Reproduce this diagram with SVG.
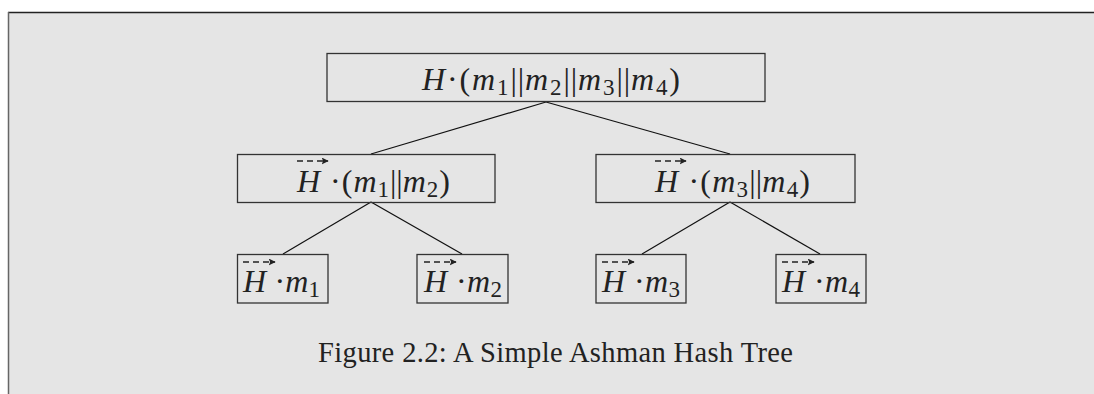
<svg xmlns="http://www.w3.org/2000/svg" width="1094" height="394" viewBox="0 0 1094 394">
  <defs>
    <style>
      .box { fill: none; stroke: #333; stroke-width: 1.3; }
      .edge { stroke: #111; stroke-width: 1.2; fill: none; }
      .m { font-family: "Liberation Serif", "DejaVu Serif", serif; font-size: 32px; fill: #222; }
      .i { font-style: italic; }
      .sub { font-size: 23px; }
      .bar { letter-spacing: -1px; }
      .vec { stroke: #222; stroke-width: 1.4; stroke-dasharray: 6 4; fill: none; }
      .cap { font-family: "Liberation Serif", serif; font-size: 28.5px; fill: #222; }
    </style>
    <marker id="ah" viewBox="0 0 10 10" refX="9" refY="5" markerWidth="7" markerHeight="7" orient="auto" markerUnits="userSpaceOnUse">
      <path d="M0,0 L10,5 L0,10 L2,5 z" fill="#222"/>
    </marker>
  </defs>
  <rect x="8" y="12" width="1090" height="390" fill="#e5e5e5"/>
  <line x1="8" y1="12.5" x2="1094" y2="12.5" stroke="#222" stroke-width="1.3"/>
  <line x1="8.5" y1="12" x2="8.5" y2="394" stroke="#666" stroke-width="1.5"/>

  <g id="connectors">
    <line class="edge" x1="546" y1="102" x2="371" y2="154"/>
    <line class="edge" x1="546" y1="102" x2="730" y2="154"/>
    <line class="edge" x1="371" y1="202" x2="283" y2="254"/>
    <line class="edge" x1="371" y1="202" x2="462" y2="254"/>
    <line class="edge" x1="730" y1="202" x2="642" y2="254"/>
    <line class="edge" x1="730" y1="202" x2="820" y2="254"/>
  </g>

  <g id="root">
    <rect class="box" x="327" y="53.5" width="438" height="48"/>
    <text class="m" x="422" y="90" textLength="258" lengthAdjust="spacing"><tspan class="i">H</tspan>·(<tspan class="i">m</tspan><tspan class="sub" dy="5">1</tspan><tspan class="bar" dy="-5">||</tspan><tspan class="i">m</tspan><tspan class="sub" dy="5">2</tspan><tspan class="bar" dy="-5">||</tspan><tspan class="i">m</tspan><tspan class="sub" dy="5">3</tspan><tspan class="bar" dy="-5">||</tspan><tspan class="i">m</tspan><tspan class="sub" dy="5">4</tspan><tspan dy="-5">)</tspan></text>
  </g>

  <g id="n12">
    <rect class="box" x="237.5" y="154.5" width="257.5" height="48"/>
    <line class="vec" x1="297" y1="161" x2="328" y2="161" marker-end="url(#ah)"/>
    <text class="m" x="297" y="192" textLength="153" lengthAdjust="spacing"><tspan class="i">H</tspan> ·(<tspan class="i">m</tspan><tspan class="sub" dy="5">1</tspan><tspan class="bar" dy="-5">||</tspan><tspan class="i">m</tspan><tspan class="sub" dy="5">2</tspan><tspan dy="-5">)</tspan></text>
  </g>

  <g id="n34">
    <rect class="box" x="596" y="154.5" width="259" height="48"/>
    <line class="vec" x1="655" y1="161" x2="686" y2="161" marker-end="url(#ah)"/>
    <text class="m" x="655" y="192" textLength="155" lengthAdjust="spacing"><tspan class="i">H</tspan> ·(<tspan class="i">m</tspan><tspan class="sub" dy="5">3</tspan><tspan class="bar" dy="-5">||</tspan><tspan class="i">m</tspan><tspan class="sub" dy="5">4</tspan><tspan dy="-5">)</tspan></text>
  </g>

  <g id="l1">
    <rect class="box" x="237.5" y="254.5" width="90.5" height="48.5"/>
    <line class="vec" x1="243" y1="262" x2="275" y2="262" marker-end="url(#ah)"/>
    <text class="m" x="243" y="292" textLength="77" lengthAdjust="spacing"><tspan class="i">H</tspan> ·<tspan class="i">m</tspan><tspan class="sub" dy="5">1</tspan></text>
  </g>
  <g id="l2">
    <rect class="box" x="417" y="254.5" width="91" height="48.5"/>
    <line class="vec" x1="424" y1="262" x2="456" y2="262" marker-end="url(#ah)"/>
    <text class="m" x="424" y="292" textLength="78" lengthAdjust="spacing"><tspan class="i">H</tspan> ·<tspan class="i">m</tspan><tspan class="sub" dy="5">2</tspan></text>
  </g>
  <g id="l3">
    <rect class="box" x="596" y="254.5" width="90" height="48.5"/>
    <line class="vec" x1="602" y1="262" x2="634" y2="262" marker-end="url(#ah)"/>
    <text class="m" x="602" y="292" textLength="78" lengthAdjust="spacing"><tspan class="i">H</tspan> ·<tspan class="i">m</tspan><tspan class="sub" dy="5">3</tspan></text>
  </g>
  <g id="l4">
    <rect class="box" x="776" y="254.5" width="90" height="48.5"/>
    <line class="vec" x1="782" y1="262" x2="814" y2="262" marker-end="url(#ah)"/>
    <text class="m" x="782" y="292" textLength="78" lengthAdjust="spacing"><tspan class="i">H</tspan> ·<tspan class="i">m</tspan><tspan class="sub" dy="5">4</tspan></text>
  </g>

  <text class="cap" x="318" y="362" textLength="475" lengthAdjust="spacing">Figure 2.2: A Simple Ashman Hash Tree</text>
</svg>
